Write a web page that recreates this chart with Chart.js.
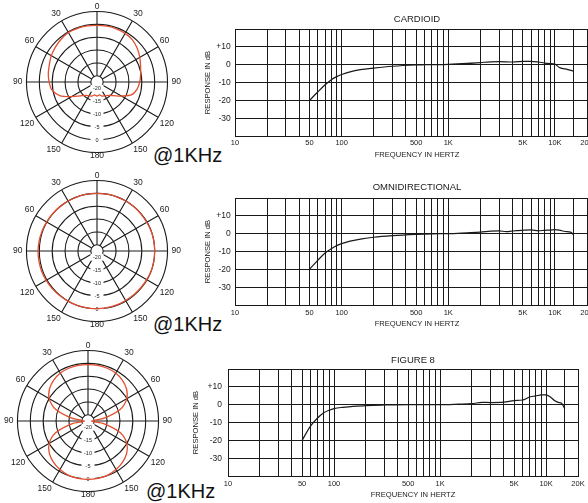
<!DOCTYPE html>
<html>
<head>
<meta charset="utf-8">
<script src="https://cdn.jsdelivr.net/npm/chart.js@4.4.1/dist/chart.umd.min.js"></script>
<style>
  html, body { margin: 0; padding: 0; background: #fff; overflow: hidden; }
  body { width: 588px; height: 503px; position: relative; }
  canvas { position: absolute; }
  .note { position: absolute; font: 20px "Liberation Sans", Arial, sans-serif; line-height: 20px; color: #111; white-space: nowrap; }
</style>
</head>
<body>
<div class="note" style="left:153px;top:145px">@1KHz</div>
<div class="note" style="left:153px;top:314px">@1KHz</div>
<div class="note" style="left:146px;top:481px">@1KHz</div>

<canvas id="polarCardioid" width="168" height="168" style="left:13px;top:-2px"></canvas>
<canvas id="polarOmni" width="168" height="168" style="left:13px;top:167px"></canvas>
<canvas id="polarFig8" width="168" height="168" style="left:4px;top:337px"></canvas>

<canvas id="freqCardioid" width="434" height="162" style="left:200px;top:0px"></canvas>
<canvas id="freqOmni" width="434" height="161" style="left:200px;top:170px"></canvas>
<canvas id="freqFig8" width="446" height="162" style="left:190px;top:340px"></canvas>

<script>
const FONT = '"Liberation Sans", Arial, sans-serif';
const INK = '#1a1a1a';
const RED = 'rgb(226, 78, 48)';

// polar plots: angle (deg, clockwise from front) and level in dB
const polarAngles = [0, 10, 20, 30, 40, 50, 60, 70, 80, 90, 100, 110, 120, 130, 140, 150, 160, 170,
                     180, 190, 200, 210, 220, 230, 240, 250, 260, 270, 280, 290, 300, 310, 320, 330, 340, 350];
const polarRings = [-20, -15, -10, -5, 0, 5];
const ringLabels = [-20, -15, -10, -5, 0];
const polarMin = -22.4;

const cardioidPolar = [-0.4, -0.4, -0.4, -0.6, -1.0, -2.0, -3.2, -4.4, -5.2, -5.8, -6.6, -8.0, -11.5, -14.2, -15.6, -16.2, -16.6, -17.3,
                       -16.9, -17.3, -16.6, -16.2, -15.6, -14.0, -11.0, -7.0, -4.6, -3.8, -3.2, -2.7, -1.9, -1.3, -0.7, -0.2, -0.2, -0.3];
const omniPolar = [0, 0, 0, 0, 0, -0.1, -0.1, 0, 0, 0, 0, 0, -0.1, -0.2, -0.2, -0.2, -0.1, -0.1,
                   0, 0, 0.1, 0.1, 0.2, 0.3, 0.4, 0.5, 0.5, 0.5, 0.4, 0.3, 0.2, 0.1, 0.1, 0, 0, 0];
const fig8Polar = [-0.5, -0.5, -0.6, -0.9, -1.7, -2.9, -5.0, -9.0, -16.0, -21.0, -16.0, -9.0, -5.0, -2.8, -1.5, -0.6, 0, 0.2,
                   0.3, 0.2, 0, -0.6, -1.5, -2.8, -5.0, -9.0, -16.0, -21.0, -16.0, -9.0, -5.0, -2.9, -1.7, -0.9, -0.6, -0.5];

// frequency response: grid, labels, curves
const freqGrid = [10, 20, 30, 40, 50, 60, 70, 80, 90, 100, 200, 300, 400, 500, 600, 700, 800, 900,
                  1000, 2000, 3000, 4000, 5000, 6000, 7000, 8000, 9000, 10000, 15000, 20000];
const freqLabelValues = [10, 50, 100, 500, 1000, 5000, 10000, 20000];
const freqLabelText = ['10', '50', '100', '500', '1K', '5K', '10K', '20K'];
const dbGrid = [-40, -30, -20, -10, 0, 10, 20];
const dbLabelValues = [10, 0, -10, -20, -30];

const cardioidFreq = [50, 60, 70, 80, 90, 100, 120, 150, 200, 300, 500, 700, 1000, 1500, 2000, 2500, 3000, 4000,
                      5000, 6000, 7000, 8000, 9000, 10000, 11000, 12500, 15000];
const cardioidDb = [-20, -15.2, -11.3, -8.4, -6.7, -5.5, -4.0, -2.8, -1.9, -0.9, -0.2, 0, 0.2, 0.7, 1.2, 1.6, 1.7, 1.5,
                    1.8, 1.9, 1.5, 0.9, 0.6, 0.3, -1.6, -2.4, -3.6];

const omniFreq = [50, 60, 70, 80, 90, 100, 120, 150, 200, 300, 500, 700, 1000, 1500, 2000, 2500, 3000, 3500,
                  4000, 5000, 6000, 7000, 8000, 9000, 10000, 11000, 12500, 14000, 15000];
const omniDb = [-20, -14.8, -10.8, -8.4, -6.7, -5.6, -4.2, -3.1, -2.0, -1.1, -0.4, -0.1, 0, 0.5, 0.9, 1.4, 1.6, 1.1,
                1.5, 1.9, 2.1, 1.6, 1.9, 2.0, 2.3, 2.0, 1.2, 0.9, -0.6];

const fig8Freq = [50, 60, 70, 80, 90, 100, 120, 150, 200, 300, 500, 1000, 1500, 2000, 2500, 3000, 4000, 5000,
                  6000, 7000, 8000, 9000, 10000, 11000, 12000, 13000, 14000, 15000];
const fig8Db = [-20, -12, -7.5, -4.6, -3.1, -2.2, -1.5, -1.0, -0.5, -0.2, 0, 0, 0.3, 0.6, 1.3, 1.2, 1.4, 2.3,
                2.6, 4.3, 4.9, 5.5, 5.5, 4.3, 2.3, 1.3, 0.8, -2.3];

// dB values written down the rear (180) axis, with a white gap in the rings
const ringLabelPlugin = {
  id: 'ringLabels',
  beforeDatasetsDraw(chart) {
    const r = chart.scales.r;
    const ctx = chart.ctx;
    const rear = polarAngles.indexOf(180);
    ctx.save();
    ctx.font = '5.5px ' + FONT;
    ctx.textAlign = 'center';
    ctx.textBaseline = 'middle';
    ringLabels.forEach(v => {
      const p = r.getPointPositionForValue(rear, v);
      ctx.fillStyle = '#fff';
      ctx.fillRect(p.x - 6.5, p.y - 3.5, 13, 7);
      ctx.fillStyle = INK;
      ctx.fillText(String(v), p.x, p.y + 0.5);
    });
    ctx.restore();
  }
};

function polarChart(id, values) {
  return new Chart(document.getElementById(id), {
    type: 'radar',
    data: {
      labels: polarAngles,
      datasets: [{
        data: values,
        borderColor: RED,
        borderWidth: 1.3,
        pointRadius: 0,
        fill: false,
        tension: 0.3
      }]
    },
    options: {
      responsive: false,
      animation: false,
      events: [],
      plugins: { legend: { display: false }, tooltip: { enabled: false } },
      scales: {
        r: {
          min: polarMin,
          max: 5,
          afterBuildTicks: s => { s.ticks = [polarMin].concat(polarRings).map(v => ({ value: v })); },
          ticks: { display: false },
          grid: { circular: true, color: INK, lineWidth: 1.1 },
          angleLines: {
            color: INK,
            lineWidth: c => (polarAngles[c.index] % 30 === 0 && polarAngles[c.index] !== 180) ? 1.1 : 0,
            // spokes start at the innermost ring
            borderDash: c => [0, c.chart.scales.r.getDistanceFromCenterForValue(polarRings[0]), 1000, 0]
          },
          pointLabels: {
            color: INK,
            font: { family: FONT, size: 8.5 },
            padding: c => {
              const a = polarAngles[c.index];
              if (a === 0) return 0;
              if (a === 180) return -2;
              if (a === 90 || a === 270) return 4;
              return 2;
            },
            callback: a => a % 30 === 0 ? String(a <= 180 ? a : 360 - a) : ''
          }
        }
      }
    },
    plugins: [ringLabelPlugin]
  });
}

function freqChart(id, title, freqs, levels, lay) {
  return new Chart(document.getElementById(id), {
    type: 'line',
    data: {
      datasets: [{
        data: freqs.map((f, i) => ({ x: f, y: levels[i] })),
        borderColor: INK,
        borderWidth: 1.2,
        pointRadius: 0,
        fill: false,
        cubicInterpolationMode: 'monotone'
      }]
    },
    options: {
      responsive: false,
      animation: false,
      events: [],
      layout: { padding: 0 },
      plugins: {
        legend: { display: false },
        tooltip: { enabled: false },
        title: {
          display: true, text: title, color: INK,
          font: { family: FONT, size: 9.5, weight: 'normal' },
          padding: { top: lay.titleTop, bottom: lay.titleBottom }
        },
        subtitle: {
          display: true, position: 'bottom', text: 'FREQUENCY IN HERTZ', color: INK,
          font: { family: FONT, size: 7.6 },
          padding: { top: 2.44, bottom: 2.44 }
        }
      },
      scales: {
        x: {
          type: 'logarithmic', min: 10, max: 20000,
          afterBuildTicks: s => { s.ticks = freqGrid.map(v => ({ value: v })); },
          afterFit: s => { s.height = 12; },
          grid: { color: INK, lineWidth: 1, drawTicks: false },
          border: { color: INK, width: 1 },
          ticks: {
            autoSkip: false, maxRotation: 0, minRotation: 0, padding: lay.xPad, color: INK,
            font: { family: FONT, size: 7.5 },
            callback: v => {
              const k = freqLabelValues.indexOf(v);
              return k < 0 ? '' : freqLabelText[k];
            }
          }
        },
        y: {
          min: -40, max: 20,
          afterBuildTicks: s => { s.ticks = dbGrid.map(v => ({ value: v })); },
          afterFit: s => { s.width = lay.yWidth; },
          grid: { color: INK, lineWidth: 1, drawTicks: false },
          border: { color: INK, width: 1 },
          ticks: {
            padding: lay.yPad, color: INK,
            font: { family: FONT, size: 8.5 },
            callback: v => dbLabelValues.includes(v) ? (v > 0 ? '+' + v : String(v)) : ''
          },
          title: {
            display: true, text: 'RESPONSE IN dB', color: INK,
            font: { family: FONT, size: 7.6 },
            padding: { top: lay.yTitlePad, bottom: 0 }
          }
        },
        // empty box on the right so the titles sit where the original has them
        pad: {
          position: 'right', display: true,
          grid: { display: false }, border: { display: false }, ticks: { display: false },
          afterFit: s => { s.width = lay.rightWidth; }
        }
      }
    }
  });
}

polarChart('polarCardioid', cardioidPolar);
polarChart('polarOmni', omniPolar);
polarChart('polarFig8', fig8Polar);

freqChart('freqCardioid', 'CARDIOID', cardioidFreq, cardioidDb,
  { titleTop: 13.3, titleBottom: 4.3, xPad: 2.8, yPad: 4.3, yWidth: 35, rightWidth: 47, yTitlePad: 3.44 });
freqChart('freqOmni', 'OMNIDIRECTIONAL', omniFreq, omniDb,
  { titleTop: 11.3, titleBottom: 5.3, xPad: 3.5, yPad: 4.3, yWidth: 35, rightWidth: 47, yTitlePad: 3.44 });
freqChart('freqFig8', 'FIGURE 8', fig8Freq, fig8Db,
  { titleTop: 14.3, titleBottom: 3.3, xPad: 3.5, yPad: 6, yWidth: 38, rightWidth: 58, yTitlePad: 1.44 });
</script>
</body>
</html>
